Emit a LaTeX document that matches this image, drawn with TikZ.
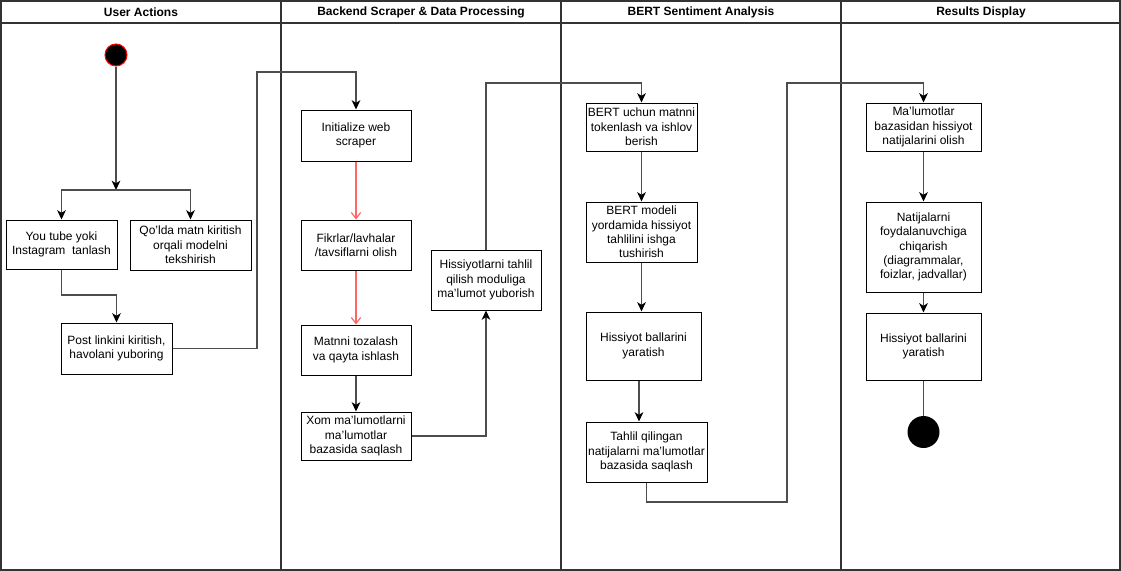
\documentclass[tikz,border=0pt]{standalone}
\usepackage{fontspec}
\setmainfont{Liberation Sans}
\usetikzlibrary{arrows.meta}
\definecolor{lnc}{HTML}{4D4D4D}
\definecolor{redarr}{HTML}{FF6666}
\begin{document}
\begin{tikzpicture}[x=0.75pt,y=-0.75pt,
  font=\fontsize{9}{10.8}\selectfont,
  box/.style={draw=black,line width=0.75pt,fill=white,align=center,inner sep=1pt},
  conn/.style={draw=lnc,line width=0.9pt,-{Stealth[length=7pt,width=6.5pt,inset=2pt,color=black,fill=black]}},
  plainconn/.style={draw=lnc,line width=0.9pt},
  redconn/.style={draw=redarr,line width=0.9pt,-{Straight Barb[length=4.5pt,width=7pt]}},
  lane/.style={draw=black!80,line width=1.1pt},
  hdr/.style={font=\fontsize{9}{10.8}\selectfont\bfseries}]
\useasboundingbox (0,0) rectangle (1121,571);
% lanes
\draw[lane] (1,1) rectangle (1120,570);
\draw[lane] (1,23) -- (1120,23);
\draw[lane] (281,1) -- (281,570);
\draw[lane] (561,1) -- (561,570);
\draw[lane] (841,1) -- (841,570);
\node[hdr] (h1) at (141,12) {User Actions};
\node[hdr] (h2) at (421,12) {Backend Scraper \& Data Processing};
\node[hdr] (h3) at (701,12) {BERT Sentiment Analysis};
\node[hdr] (h4) at (981,12) {Results Display};
% start
\node[circle,fill=black,draw=red,line width=0.8pt,minimum size=16.5pt,inner sep=0pt] (start) at (116,55) {};
% boxes
\node[box,minimum width=111*0.75pt,minimum height=49*0.75pt] (yt) at (61.5,244.5) {You tube yoki\\Instagram\ \ tanlash};
\node[box,minimum width=121*0.75pt,minimum height=50*0.75pt] (ql) at (190.5,245) {Qo'lda matn kiritish\\orqali modelni\\tekshirish};
\node[box,minimum width=111*0.75pt,minimum height=51*0.75pt] (post) at (116.5,348.5) {Post linkini kiritish,\\havolani yuboring};
\node[box,minimum width=110*0.75pt,minimum height=51*0.75pt] (init) at (356,135.5) {Initialize web\\scraper};
\node[box,minimum width=110*0.75pt,minimum height=50*0.75pt] (fik) at (356,245) {Fikrlar/lavhalar\\/tavsiflarni olish};
\node[box,minimum width=110*0.75pt,minimum height=50*0.75pt] (mat) at (356,350) {Matnni tozalash\\va qayta ishlash};
\node[box,minimum width=110*0.75pt,minimum height=48*0.75pt] (xom) at (356,436) {Xom ma’lumotlarni\\ma’lumotlar\\bazasida saqlash};
\node[box,minimum width=110*0.75pt,minimum height=60*0.75pt] (his) at (486,280) {Hissiyotlarni tahlil\\qilish moduliga\\ma’lumot yuborish};
\node[box,minimum width=111*0.75pt,minimum height=48*0.75pt] (bert1) at (641.5,127) {BERT uchun matnni\\tokenlash va ishlov\\berish};
\node[box,minimum width=111*0.75pt,minimum height=60*0.75pt] (bert2) at (641.5,232) {BERT modeli\\yordamida hissiyot\\tahlilini ishga\\tushirish};
\node[box,minimum width=115*0.75pt,minimum height=68*0.75pt] (hb1) at (643.5,346) {Hissiyot ballarini\\yaratish};
\node[box,minimum width=121*0.75pt,minimum height=60*0.75pt] (tah) at (646.5,452) {Tahlil qilingan\\natijalarni ma’lumotlar\\bazasida saqlash};
\node[box,minimum width=115*0.75pt,minimum height=48*0.75pt] (mal) at (923.5,127) {Ma'lumotlar\\bazasidan hissiyot\\natijalarini olish};
\node[box,minimum width=115*0.75pt,minimum height=90*0.75pt] (nat) at (923.5,247) {Natijalarni\\foydalanuvchiga\\chiqarish\\(diagrammalar,\\foizlar, jadvallar)};
\node[box,minimum width=115*0.75pt,minimum height=67*0.75pt] (hb2) at (923.5,346.5) {Hissiyot ballarini\\yaratish};
\node[circle,fill=black,minimum size=24pt,inner sep=0pt] (end) at (923.5,432) {};
% coordinates
\coordinate (j) at (116,190);
\coordinate (c1) at (61.5,295);
\coordinate (c2) at (257,72);
\coordinate (c3) at (486,83);
\coordinate (c4) at (646.5,502);
\coordinate (c5) at (787,83);
\coordinate (xl) at (639,0);
% connectors
\draw[conn] (start) -- (j);
\draw[conn] (j) -| (yt.north);
\draw[conn] (j) -| (ql.north);
\draw[conn] (yt.south) -- (c1) -| (post.north);
\draw[conn] (post.east) -| (c2) -| (init.north);
\draw[redconn] (init) -- (fik);
\draw[redconn] (fik) -- (mat);
\draw[conn] (mat) -- (xom);
\draw[conn] (xom.east) -| (his.south);
\draw[conn] (his.north) -- (c3) -| (bert1.north);
\draw[conn] (bert1) -- (bert2);
\draw[conn] (bert2) -- (bert2 |- hb1.north);
\draw[conn] (hb1.south -| xl) -- (tah.north -| xl);
\draw[conn] (tah.south) -- (c4) -| (c5) -| (mal.north);
\draw[conn] (mal) -- (nat);
\draw[conn] (nat) -- (hb2);
\draw[plainconn] (hb2) -- (end);
\end{tikzpicture}
\end{document}
